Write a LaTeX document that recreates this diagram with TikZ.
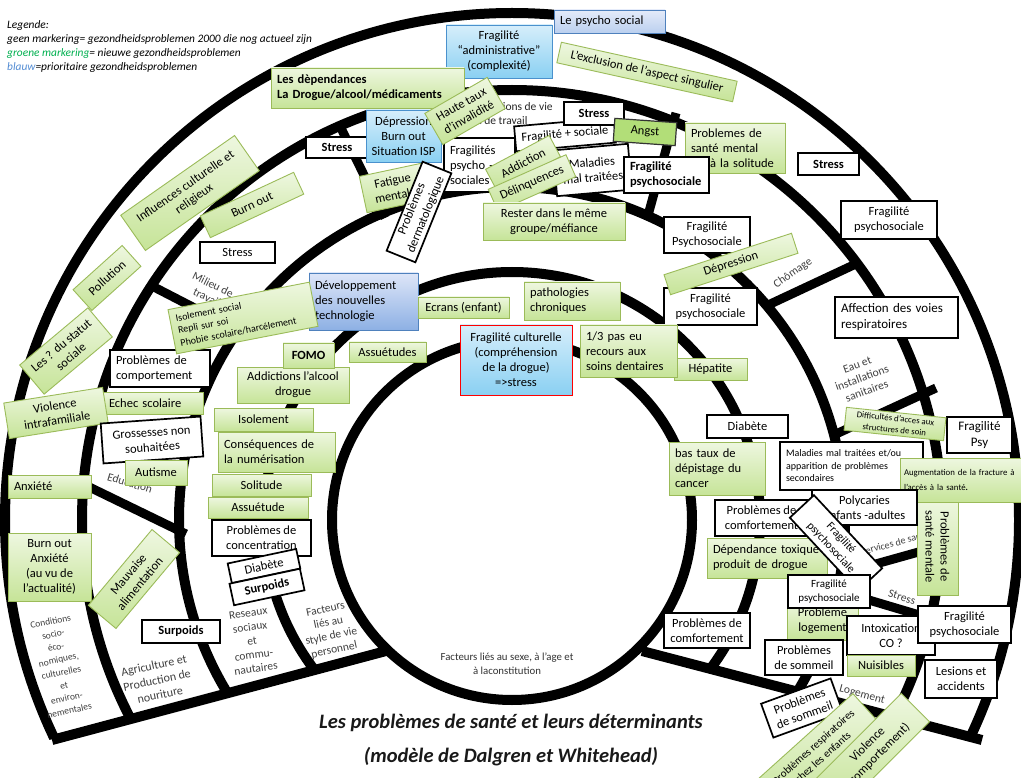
\documentclass[tikz,border=0pt]{standalone}
\usepackage{fontspec}
\setmainfont{Carlito}

\definecolor{gtop}{RGB}{238,247,224}
\definecolor{gbot}{RGB}{198,228,152}
\definecolor{gborder}{RGB}{155,187,89}
\definecolor{btop}{RGB}{214,238,251}
\definecolor{bbot}{RGB}{138,208,242}
\definecolor{bborder}{RGB}{74,145,205}
\definecolor{ltop}{RGB}{222,230,248}
\definecolor{lbot}{RGB}{141,176,228}
\definecolor{lborder}{RGB}{79,129,189}
\definecolor{angstgreen}{RGB}{178,222,120}
\definecolor{labgray}{RGB}{64,64,64}
\definecolor{leggreen}{RGB}{0,176,80}
\definecolor{legblue}{RGB}{84,141,212}

\newcommand{\fnorm}{\fontsize{12.5}{15}\selectfont}
\newcommand{\fbig}{\fontsize{13}{16}\selectfont}
\newcommand{\fsmall}{\fontsize{10}{12.5}\selectfont}
\newcommand{\ftiny}{\fontsize{8.8}{11.5}\selectfont}
\newcommand{\faug}{\fontsize{8.8}{15}\selectfont}
\newcommand{\flab}{\fontsize{11.5}{14}\selectfont}
\newcommand{\fcond}{\fontsize{9.5}{13}\selectfont}
\newcommand{\fleg}{\fontsize{11.4}{13}\selectfont\itshape}
\newcommand{\ftitle}{\fontsize{20.5}{34}\selectfont\bfseries\itshape}

\begin{document}
\begin{tikzpicture}[x=1pt,y=-1pt,
  ring/.style={line width=10pt},
  divider/.style={line width=9pt},
  gbox/.style={draw=gborder, line width=0.9pt, top color=gtop, bottom color=gbot, inner sep=1pt, align=center, font=\fnorm},
  wbox/.style={draw=black, line width=1.7pt, fill=white, inner sep=1pt, align=center, font=\fnorm},
  bbox/.style={draw=bborder, line width=0.9pt, top color=btop, bottom color=bbot, inner sep=1pt, align=center, font=\fnorm},
  dbox/.style={draw=lborder, line width=0.9pt, top color=ltop, bottom color=lbot, inner sep=1pt, align=center, font=\fnorm},
  abox/.style={draw=black!80, line width=1.2pt, fill=angstgreen, inner sep=1pt, font=\fnorm},
  lab/.style={text=labgray, font=\flab, align=center, inner sep=0pt},
  lft/.style={align=left, inner xsep=6pt}]

\useasboundingbox (0,0) rectangle (1021,778);
\fill[white] (0,0) rectangle (1021,778);

%rings
\coordinate (ctr) at (512,520);
\begin{scope}
  \clip (0,0) -- (1021,0) -- (1021,749) -- (642,651) -- (ctr) -- (386,651) -- (0,753) -- cycle;
  \foreach \r in {248,333,430,507}
    \draw[ring] (ctr) circle[radius=\r];
\end{scope}
\draw[ring] (ctr) circle[radius=180];
\draw[ring] (386,651) -- (52,740);
\draw[ring] (642,651) -- (982,740);

%dividers
\draw[divider] (83,484) -- (186,534);
\draw[divider] (152,286) -- (243,333);
\draw[divider] (338,122) -- (385,218);
\draw[divider] (676,113) -- (647,219);
\draw[divider] (766,306) -- (860,262);
\draw[divider] (836,434) -- (936,388);
\draw[divider] (840,574) -- (940,546);
\draw[divider] (842,592) -- (936,620);

%legend
\node[anchor=west, font=\fleg, inner sep=0pt] (leg1) at (7,26) {Legende:};
\node[anchor=west, font=\fleg, inner sep=0pt] (leg2) at (7,40) {geen markering= gezondheidsproblemen 2000 die nog actueel zijn};
\node[anchor=west, font=\fleg, inner sep=0pt] (leg3) at (7,54) {\textcolor{leggreen}{groene markering}= nieuwe gezondheidsproblemen};
\node[anchor=west, font=\fleg, inner sep=0pt] (leg4) at (7,68) {\textcolor{legblue}{blauw}=prioritaire gezondheidsproblemen};

%ring labels
\node[lab, anchor=west, align=left, text=black!85] (vie) at (472,114) {Conditions de vie\\et de travail};
\node[lab, rotate=-26] (milieu) at (210,291) {Milieu de\\travail};
\node[lab, rotate=-17] (educ) at (130,483) {Education};
\node[lab, rotate=35] (chomage) at (793,273) {Chômage};
\node[lab, rotate=20] (eau) at (862,378) {Eau et\\installations\\sanitaires};
\node[lab, rotate=15, font=\fsmall] (services) at (895,543) {Services de santé};
\node[lab, rotate=-18] (stresslab) at (902,597) {Stress};
\node[lab, rotate=-15] (logement) at (862,695) {Logement};
\node[lab, rotate=12, font=\fcond] (csoc) at (60,666) {Conditions\\socio-\\éco-\\nomiques,\\culturelles\\et\\environ-\\nementales};
\node[lab, rotate=12, font=\fontsize{12}{15}\selectfont] (agri) at (157,680) {Agriculture et\\Production de\\nouriture};
\node[lab, rotate=8] (reseaux) at (252,641) {Reseaux\\sociaux\\et\\commu-\\nautaires};
\node[lab, rotate=12] (style) at (330,630) {Facteurs\\liés au\\style de vie\\personnel};
\node[lab, font=\fontsize{10.8}{14}\selectfont, text=black!80] (sexe) at (507,664) {Facteurs liés au sexe, à l’age et\\à laconstitution};

%outer ring
\node[gbox, rotate=35, minimum width=139pt, minimum height=43pt] (infl) at (190,193) {Influences culturelle et\\religieux};
\node[gbox, rotate=42, minimum width=66pt, minimum height=28pt] (pollu) at (107,278) {Pollution};
\node[gbox, rotate=40, minimum width=89pt, minimum height=38pt] (statut) at (66,351) {Les ? du statut\\sociale};
\node[gbox, lft, text width=71pt, minimum height=23pt] (anx) at (49.5,486.5) {Anxiété};
\node[gbox, minimum width=83pt, minimum height=68pt] (burn2) at (49.5,567) {Burn out\\Anxiété\\(au vu de\\l’actualité)};
\node[gbox, rotate=50, minimum width=99pt, minimum height=36pt] (mauv) at (134,579) {Mauvaise\\alimentation};
\node[wbox, font=\fnorm\bfseries, minimum width=78pt, minimum height=23pt] (surp2) at (181,631.5) {Surpoids};
\node[bbox, minimum width=106pt, minimum height=53pt] (admin) at (499,51.5) {Fragilité\\“administrative”\\(complexité)};
\node[gbox, lft, font=\fnorm\bfseries, text width=181pt, minimum height=40pt] (depend) at (367.5,88) {Les dèpendances\\La Drogue/alcool/médicaments};
\node[dbox, lft, top color=ltop!80, bottom color=lbot!60, text width=99pt, minimum height=23pt] (psycho) at (609.5,21.5) {Le psycho social};
\node[gbox, rotate=-12.5, minimum width=180pt, minimum height=21pt] (exclu) at (647,72) {L’exclusion de l’aspect singulier};
\node[wbox, font=\fnorm\bfseries, minimum width=61pt, minimum height=22pt] (stress4) at (828.5,164) {Stress};
\node[wbox, minimum width=96pt, minimum height=38pt] (frag4) at (889,220) {Fragilité\\psychosociale};
\node[wbox, lft, font=\fbig, text width=111pt, minimum height=41pt] (affect) at (896.5,317.5) {Affection des voies\\respiratoires};
\node[wbox, font=\fbig, minimum width=65pt, minimum height=36pt] (fpsy) at (979.5,435) {Fragilité\\Psy};
\node[gbox, rotate=-6, font=\ftiny, minimum width=100pt, minimum height=23pt] (diffi) at (895,424) {Difficultés d’acces aux\\structures de soin};
\node[wbox, lft, font=\fsmall, text width=131pt, minimum height=48pt] (mal2) at (851.5,466) {Maladies mal traitées et/ou\\apparition de problèmes\\secondaires};
\node[gbox, rotate=-90, minimum width=97pt, minimum height=41pt] (sment2) at (937.5,546.5) {Problèmes de\\santé mentale};
\node[gbox, lft, inner xsep=4pt, font=\faug, text width=118pt, minimum height=44pt] (augm) at (963,480) {Augmentation de la fracture à\\l’accès à la santé\textbf{.}};
\node[wbox, minimum width=72pt, minimum height=38pt] (lesions) at (961,679) {Lesions et\\accidents};

%ring C top
\node[wbox, font=\fnorm\bfseries, minimum width=62pt, minimum height=21pt] (stress2) at (337,147.5) {Stress};
\node[bbox, minimum width=75pt, minimum height=52pt] (depr1) at (403.5,136) {Dépression\\Burn out\\Situation ISP};
\node[wbox, lft, text width=59pt, minimum height=54pt] (frag1) at (479.5,165) {Fragilités\\psycho -\\sociales};
\node[wbox, rotate=5, minimum width=100pt, minimum height=25pt] (fragsoc) at (565,134.5) {Fragilité + sociale};
\node[wbox, font=\fnorm\bfseries, minimum width=60pt, minimum height=23pt] (stress3) at (594,113.5) {Stress};
\node[abox, rotate=-4, minimum width=62pt, minimum height=23pt] (angst) at (645,132) {Angst};
\node[wbox, rotate=5, minimum width=75pt, minimum height=46pt] (mal1) at (592.5,170) {Maladies\\mal traitées};
\node[gbox, rotate=28, minimum width=72pt, minimum height=24pt] (addic) at (523,163) {Addiction};
\node[gbox, rotate=24, minimum width=85pt, minimum height=24pt] (delinq) at (532,183) {Délinquences};
\node[gbox, lft, text width=88pt, minimum height=50pt] (sment1) at (735,148) {Problemes de\\santé mental\\\hspace*{19pt}à la solitude};
\node[wbox, lft, font=\fnorm\bfseries, text width=73pt, minimum height=36pt] (frag2) at (666.5,175) {Fragilité\\psychosociale};
\node[gbox, rotate=30, minimum width=72pt, minimum height=36pt] (haute) at (465,111) {Haute taux\\d’invalidité};
\node[wbox, minimum width=75pt, minimum height=21pt] (stress1) at (237.5,252.5) {Stress};
\node[gbox, rotate=25, minimum width=103pt, minimum height=24pt] (burn1) at (252,205) {Burn out};

%ring C left
\node[wbox, lft, text width=88pt, minimum height=37pt] (comport) at (160,368.5) {Problèmes de\\comportement};
\node[gbox, lft, text width=88pt, minimum height=22pt] (echec) at (153,403) {Echec scolaire};
\node[gbox, rotate=9, minimum width=100pt, minimum height=36pt] (viol) at (56,413) {Violence\\intrafamiliale};
\node[wbox, rotate=4, minimum width=100pt, minimum height=40pt] (gross) at (152,440) {Grossesses non\\souhaitées};
\node[gbox, minimum width=62pt, minimum height=25pt] (autis) at (156,472.5) {Autisme};

%ring B
\node[gbox, rotate=12, minimum width=63pt, minimum height=37pt] (fatig) at (394,188) {Fatigue\\mentale};
\node[wbox, rotate=68, minimum width=96pt, minimum height=31pt] (derma) at (419,212) {Problèmes\\dermatologique};
\node[gbox, minimum width=142pt, minimum height=37pt] (rester) at (554,221.5) {Rester dans le même\\groupe/méfiance};
\node[wbox, minimum width=86pt, minimum height=36pt] (frag3) at (707,235) {Fragilité\\Psychosociale};
\node[wbox, minimum width=93pt, minimum height=37pt] (frag5) at (710.5,306.5) {Fragilité\\psychosociale};
\node[gbox, rotate=18, minimum width=134pt, minimum height=21pt] (depr2) at (731,264) {Dépression};
\node[gbox, minimum width=112pt, minimum height=36pt] (addict) at (293,385) {Addictions l’alcool\\drogue};
\node[gbox, minimum width=99pt, minimum height=23pt] (isol) at (263.5,419.5) {Isolement};
\node[gbox, lft, text width=105pt, minimum height=40pt] (conseq) at (276.5,452) {Conséquences de\\la numérisation};
\node[gbox, minimum width=99pt, minimum height=22pt] (solit) at (261.5,485) {Solitude};
\node[gbox, minimum width=100pt, minimum height=21pt] (assu2) at (258,507.5) {Assuétude};
\node[wbox, minimum width=99pt, minimum height=36pt] (concen) at (261.5,538) {Problèmes de\\concentration};
\node[wbox, rotate=12, minimum width=70pt, minimum height=20pt] (diab2) at (264,566) {Diabète};
\node[wbox, rotate=12, font=\fnorm\bfseries, minimum width=72pt, minimum height=22pt] (surp1) at (267,587) {Surpoids};

%ring A
\node[dbox, lft, text width=97pt, minimum height=57pt] (devtech) at (363.5,301.5) {Développement\\des nouvelles\\technologie};
\node[gbox, rotate=11, lft, font=\fsmall, text width=132pt, minimum height=45pt] (isolsoc) at (243,318) {Isolement social\\Repli sur soi\\Phobie scolaire/harcélement};
\node[gbox, minimum width=91pt, minimum height=21pt] (ecrans) at (463.5,307.5) {Ecrans (enfant)};
\node[gbox, lft, text width=84pt, minimum height=38pt] (patho) at (572,301) {pathologies\\chroniques};
\node[gbox, font=\fnorm\bfseries, minimum width=51pt, minimum height=25pt] (fomo) at (308.5,355.5) {FOMO};
\node[gbox, minimum width=77pt, minimum height=20pt] (assu1) at (387.5,352) {Assuétudes};
\node[bbox, draw=red, minimum width=112pt, minimum height=70pt] (cult) at (516,360) {Fragilité culturelle\\(compréhension\\de la drogue)\\=>stress};
\node[gbox, minimum width=73pt, minimum height=22pt] (hepat) at (710.5,369) {Hépatite};
\node[gbox, lft, text width=85pt, minimum height=52pt] (dent) at (628.5,351) {1/3 pas eu\\recours aux\\soins dentaires};

%right side
\node[wbox, minimum width=81pt, minimum height=23pt] (diab1) at (747.5,426.5) {Diabète};
\node[gbox, lft, text width=84pt, minimum height=53pt] (bas) at (717,468.5) {bas taux de\\dépistage du\\cancer};
\node[wbox, minimum width=93pt, minimum height=36pt] (comf1) at (761.5,518) {Problèmes de\\comfortement};
\node[wbox, minimum width=105pt, minimum height=35pt] (poly) at (864.5,507.5) {Polycaries\\enfants -adultes};
\node[gbox, lft, text width=108pt, minimum height=40pt] (dep) at (767,558) {Dépendance toxique\\produit de drogue};
\node[wbox, rotate=-47, font=\fontsize{11.5}{14}\selectfont, minimum width=100pt, minimum height=33pt] (fragrot) at (836,543) {Fragilité\\psychosociale};
\node[wbox, minimum width=86pt, minimum height=35pt] (comf2) at (707,630.5) {Problèmes de\\comfortement};
\node[gbox, minimum width=71pt, minimum height=39pt] (plog) at (822.5,620.5) {Problème\\logement};
\node[wbox, font=\fontsize{11}{13.5}\selectfont, minimum width=82pt, minimum height=33pt] (frag7) at (829,591.5) {Fragilité\\psychosociale};
\node[wbox, minimum width=88pt, minimum height=39pt] (intox) at (891,635.5) {Intoxication\\CO ?};
\node[wbox, minimum width=93pt, minimum height=37pt] (frag8) at (964.5,624.5) {Fragilité\\psychosociale};
\node[gbox, minimum width=68pt, minimum height=21pt] (nuis) at (881,665.5) {Nuisibles};
\node[wbox, minimum width=78pt, minimum height=35pt] (somm1) at (804,657.5) {Problèmes\\de sommeil};
\node[wbox, rotate=20, minimum width=74pt, minimum height=36pt] (somm2) at (802,708) {Problèmes\\de sommeil};
\node[gbox, rotate=42, font=\fontsize{11}{14}\selectfont, minimum width=130pt, minimum height=40pt] (respi) at (818,752) {Problèmes respiratoires\\chez les enfants};
\node[gbox, rotate=45, minimum width=120pt, minimum height=40pt] (viol2) at (873,750) {Violence\\(comportement)};

%title
\node[font=\ftitle, align=center, text=black!90] (title) at (511,740) {Les problèmes de santé et leurs déterminants\\(modèle de Dalgren et Whitehead)};

\end{tikzpicture}
\end{document}
